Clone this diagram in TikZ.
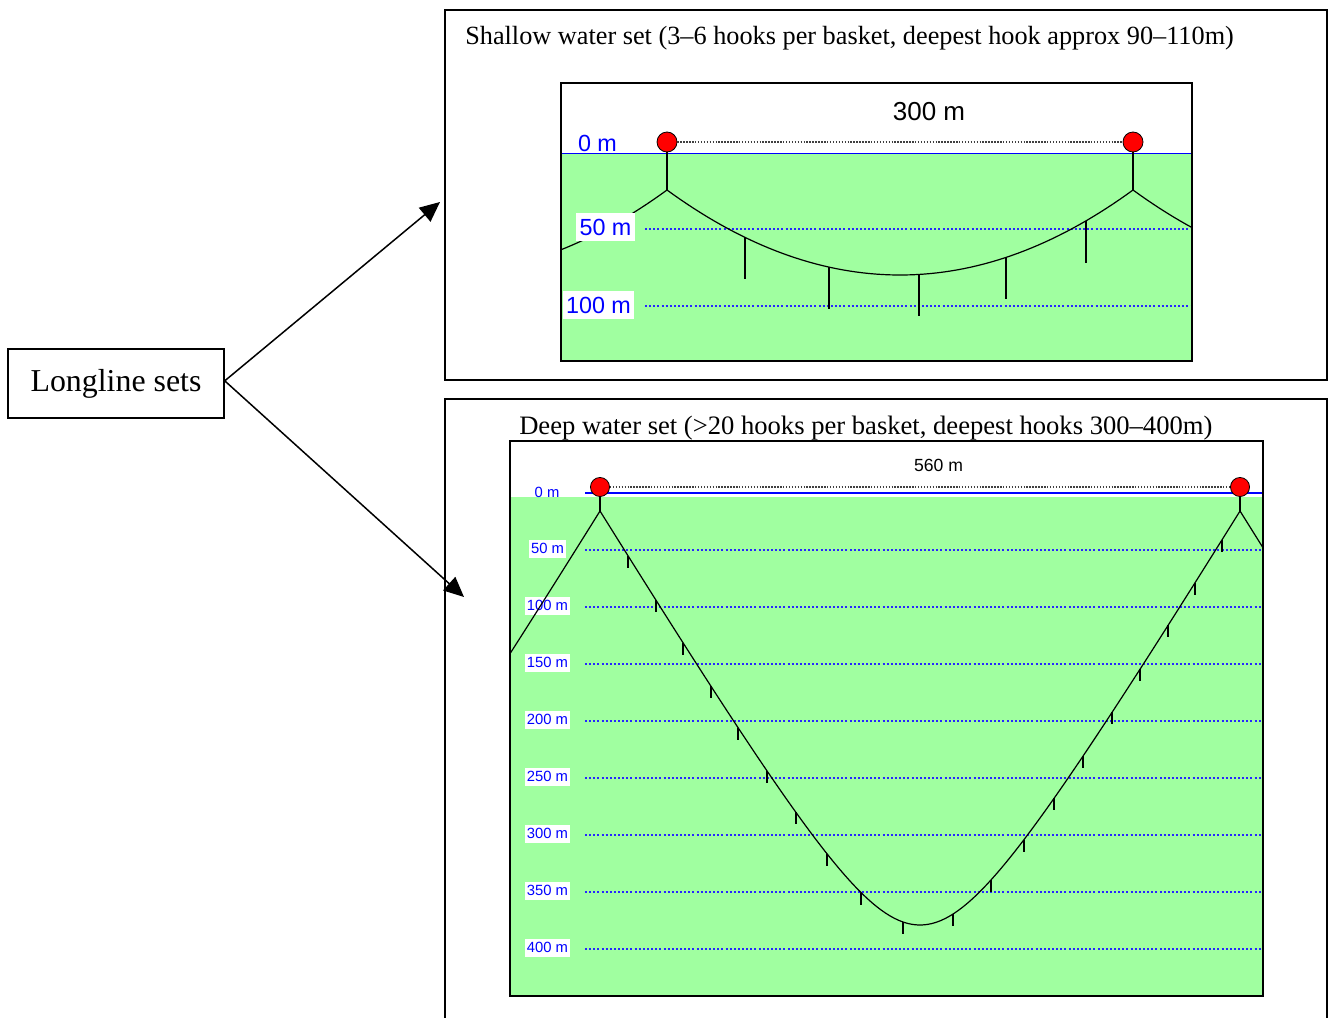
\documentclass[tikz,border=0pt]{standalone}
\usepackage{fontspec}
\setmainfont{Liberation Serif}
\newfontfamily\arialf{Liberation Sans}
\usetikzlibrary{arrows.meta}
\definecolor{sea}{RGB}{160,255,160}
\begin{document}
\begin{tikzpicture}[x=0.75pt,y=-0.75pt,
 lw/.style={line width=#1*0.75pt},
 outerbox/.style={draw=black, lw=2},
 panel/.style={draw=black, lw=1.5},
 depthline/.style={blue!85, lw=1.2, dash pattern=on 1.5pt off 1.6pt},
 floatline/.style={black!75, lw=1.1, dash pattern=on 1.1pt off 1.1pt},
 mainline/.style={black, lw=1.2},
 hookline/.style={black, lw=1.2},
 buoy/.style={circle, draw=black, fill=red, lw=0.8, minimum size=15pt, inner sep=0pt},
 smallbuoy/.style={buoy, minimum size=14.3pt},
 biglabel/.style={text=blue, font=\arialf\fontsize{17.5}{20}\selectfont, inner sep=0pt},
 boxlabel/.style={biglabel, fill=white, minimum height=21pt, inner xsep=2.5pt},
 smalllabel/.style={text=blue, font=\arialf\fontsize{11.1}{13}\selectfont, inner sep=0pt},
 smallbox/.style={smalllabel, fill=white, minimum height=13.5pt, inner xsep=1.5pt},
 titletext/.style={font=\fontsize{19.7}{23}\selectfont, inner sep=0pt},
 arrowline/.style={lw=1.5, -{Triangle[length=15pt,width=13.5pt]}}
]
\useasboundingbox (0,0) rectangle (1333,1017);
\fill[white] (0,0) rectangle (1333,1017);

% outer boxes
\draw[outerbox] (445,10) rectangle (1327,380);
\draw[outerbox] (445,399) rectangle (1327,1030);

% Longline sets
\node[draw, lw=1.5, minimum width=162pt, minimum height=51.75pt, inner sep=0pt,
      font=\fontsize{23.9}{26}\selectfont] (ll) at (116,383.5) {Longline sets};
\coordinate (tipA) at (440,202);
\coordinate (tipB) at (464,597);
\draw[arrowline] ([yshift=2pt]ll.east) -- (tipA);
\draw[arrowline] ([yshift=2pt]ll.east) -- (tipB);

% ---------------- Shallow panel ----------------
\node[titletext, anchor=base west] (stitle) at (465,44) {Shallow water set (3–6 hooks per basket, deepest hook approx 90–110m)};
\fill[sea] (561,153) rectangle (1192,361);
\draw[blue, lw=1] (561,153.5) -- (1192,153.5);
\draw[depthline] (645,229) -- (1192,229);
\draw[depthline] (645,306) -- (1192,306);
\begin{scope}
 \clip (561,153) rectangle (1192,361);
 \foreach \c in {434,900,1366}
   \draw[mainline] plot[domain=-233:233, samples=70] ({\c+\x},{275-85*(\x/233)^2});
\end{scope}
\foreach \h in {745,829,919,1006,1086}
  \draw[hookline] (\h,{275-85*((\h-900)/233)^2}) -- ++(0,42);
\node[boxlabel] (s50) at (605.5,227) {50 m};
\node[boxlabel] (s100) at (598.5,305) {100 m};
\node[biglabel] (s0) at (597.5,143.5) {0 m};
\node[buoy] (sb1) at (667,142) {};
\node[buoy] (sb2) at (1133,142) {};
\coordinate (sj1) at (667,190);
\coordinate (sj2) at (1133,190);
\draw[mainline] (sb1.south) -- (sj1);
\draw[mainline] (sb2.south) -- (sj2);
\draw[floatline] (sb1) -- (sb2);
\draw[panel] (561,83) rectangle (1192,361);
\node[font=\arialf\fontsize{19.5}{22}\selectfont, inner sep=0pt] (s300) at (929,112) {300 m};

% ---------------- Deep panel ----------------
\node[titletext, font=\fontsize{19.95}{23}\selectfont, anchor=base west] (dtitle) at (519,434) {Deep water set (>20 hooks per basket, deepest hooks 300–400m)};
\fill[sea] (510,497) rectangle (1263,996);
\draw[blue, lw=1.2] (585,493) -- (1263,493);
\foreach \d [count=\i] in {50,100,150,200,250,300,350,400} {
  \draw[depthline] (585,{493+57*\i}) -- (1262,{493+57*\i});
  \node[smallbox] (dl\i) at (547.5,{491.5+57*\i}) {\d\ m};
}
\begin{scope}
 \clip (510,497) rectangle (1263,996);
 \foreach \c in {280,920,1560}
   \draw[mainline] plot[domain=-3.2:3.2, samples=140] ({\c+100*\x},{925-165*(sqrt(\x*\x+0.786*0.786)-0.786)});
\end{scope}
\foreach \h in {628,656,683,711,738,767,796,827,861,903,953,991,1024,1054,1083,1112,1140,1168,1195,1222}
  \draw[hookline] (\h,{925-165*(sqrt(((\h-920)/100)^2+0.786*0.786)-0.786)}) -- ++(0,12);
\node[smalllabel] (d0) at (547,492) {0 m};
\node[smallbuoy] (db1) at (600,487) {};
\node[smallbuoy] (db2) at (1240,487) {};
\coordinate (dj1) at (600,511);
\coordinate (dj2) at (1240,511);
\draw[mainline] (db1.south) -- (dj1);
\draw[mainline] (db2.south) -- (dj2);
\draw[floatline] (db1) -- (db2);
\draw[panel] (510,441) rectangle (1263,996);
\node[font=\arialf\fontsize{13.2}{15}\selectfont, inner sep=0pt] (d560) at (938.5,465) {560 m};
\end{tikzpicture}
\end{document}
